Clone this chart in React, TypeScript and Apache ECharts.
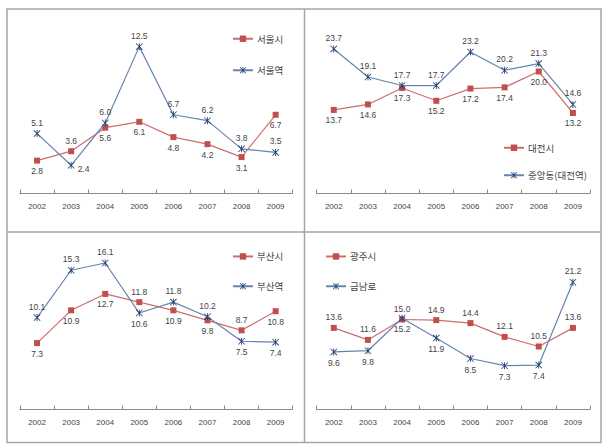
import React, { useEffect, useRef } from "react";
import * as echarts from "echarts";

const years = ["2002", "2003", "2004", "2005", "2006", "2007", "2008", "2009"];

const seoulCity = [2.8, 3.6, 5.6, 6.1, 4.8, 4.2, 3.1, 6.7];
const seoulStation = [5.1, 2.4, 6.0, 12.5, 6.7, 6.2, 3.8, 3.5];
const daejeonCity = [13.7, 14.6, 17.3, 15.2, 17.2, 17.4, 20.0, 13.2];
const jungangdong = [23.7, 19.1, 17.7, 17.7, 23.2, 20.2, 21.3, 14.6];
const busanCity = [7.3, 10.9, 12.7, 11.8, 10.9, 9.8, 8.7, 10.8];
const busanStation = [10.1, 15.3, 16.1, 10.6, 11.8, 10.2, 7.5, 7.4];
const gwangjuCity = [13.6, 11.6, 15.0, 14.9, 14.4, 12.1, 10.5, 13.6];
const geumnamro = [9.6, 9.8, 15.2, 11.9, 8.5, 7.3, 7.4, 21.2];

const names = ["서울시", "서울역", "대전시", "중앙동(대전역)", "부산시", "부산역", "광주시", "금남로"];

// label placement per point
const T = "top", B = "bottom", R = "right";
const seoulCityPos = [B, T, B, B, B, B, B, B];
const seoulStationPos = [T, R, T, T, T, T, T, T];
const daejeonCityPos = [B, B, B, B, B, B, B, B];
const jungangdongPos = [T, T, T, T, T, T, T, T];
const busanCityPos = [B, B, B, T, B, B, T, B];
const busanStationPos = [T, T, T, B, T, T, B, B];
const gwangjuCityPos = [T, T, T, T, T, T, T, T];
const geumnamroPos = [B, B, B, B, B, B, B, T];

const RED_LINE = "#cc6e70";
const RED_MARK = "#c0504d";
const BLUE_LINE = "#6585ad";
const BLUE_MARK = "#1f3d70";
const STAR =
  "path://M4.4,0H5.6V10H4.4Z M0,0.8L0.8,0L10,9.2L9.2,10Z M9.2,0L10,0.8L0.8,10L0,9.2Z";

const NUM_FONT = "Liberation Sans, Arial, sans-serif";
const KR_FONT = "Noto Sans CJK KR, sans-serif";

function makeSeries(name: string, values: number[], pos: string[], idx: number, red: boolean) {
  return {
    name,
    type: "line",
    xAxisIndex: idx,
    yAxisIndex: idx,
    symbol: red ? "rect" : STAR,
    symbolSize: red ? 6 : 7,
    lineStyle: { color: red ? RED_LINE : BLUE_LINE, width: 1.2 },
    itemStyle: { color: red ? RED_MARK : BLUE_MARK },
    emphasis: { disabled: true },
    data: values.map((v, i) => ({
      value: v,
      label: {
        position: pos[i],
        offset: pos[i] === R ? [0, 4] : [0, 0],
      },
    })),
    label: {
      show: true,
      distance: 3,
      fontSize: 8.5,
      fontFamily: NUM_FONT,
      color: "#444444",
      formatter: (p: any) => Number(p.value).toFixed(1),
    },
    z: red ? 2 : 3,
  };
}

const grids = [
  { left: 20, top: 29, width: 272.7, height: 164.5, max: 14 },
  { left: 316.7, top: 41, width: 273.3, height: 152.5, max: 25 },
  { left: 20, top: 245.7, width: 272.7, height: 163.8, max: 18 },
  { left: 316.7, top: 259.5, width: 273.3, height: 150, max: 25 },
];

const legends = [
  { left: 232, top: 34, gap: 22, data: [names[0], names[1]] },
  { left: 503, top: 143, gap: 18, data: [names[2], names[3]] },
  { left: 232, top: 251.7, gap: 20.3, data: [names[4], names[5]] },
  { left: 325, top: 251.7, gap: 20.3, data: [names[6], names[7]] },
];

export default function App() {
  const ref = useRef<HTMLDivElement>(null);
  useEffect(() => {
    if (!ref.current) return;
    const chart = echarts.init(ref.current, undefined, { renderer: "svg" });
    const borderStyle = { stroke: "#a6a6a6", lineWidth: 1.5, fill: "none" };
    chart.setOption({
      animation: false,
      backgroundColor: "#ffffff",
      grid: grids.map((g) => ({ left: g.left, top: g.top, width: g.width, height: g.height })),
      xAxis: grids.map((g, i) => ({
        type: "category",
        gridIndex: i,
        data: years,
        boundaryGap: true,
        axisLine: { show: true, lineStyle: { color: "#8c8c8c", width: 1 } },
        axisTick: { show: true, inside: true, length: 4, lineStyle: { color: "#8c8c8c" } },
        axisLabel: { fontSize: 8, fontFamily: NUM_FONT, color: "#444444", margin: 9 },
        splitLine: { show: false },
      })),
      yAxis: grids.map((g, i) => ({
        type: "value",
        gridIndex: i,
        min: 0,
        max: g.max,
        show: false,
        splitLine: { show: false },
      })),
      legend: legends.map((l) => ({
        orient: "vertical",
        left: l.left,
        top: l.top,
        itemWidth: 20,
        itemHeight: 8,
        itemGap: l.gap,
        padding: 0,
        data: l.data,
        selectedMode: false,
        textStyle: { fontSize: 9.5, fontFamily: KR_FONT, color: "#444444", padding: [0, 0, 0, -1] },
      })),
      graphic: [
        { type: "rect", shape: { x: 7, y: 9, width: 594, height: 433.5 }, style: borderStyle, z: -1 },
        { type: "line", shape: { x1: 304.5, y1: 9, x2: 304.5, y2: 442.5 }, style: borderStyle, z: -1 },
        { type: "line", shape: { x1: 7, y1: 232, x2: 601, y2: 232 }, style: borderStyle, z: -1 },
      ],
      series: [
        makeSeries(names[0], seoulCity, seoulCityPos, 0, true),
        makeSeries(names[1], seoulStation, seoulStationPos, 0, false),
        makeSeries(names[2], daejeonCity, daejeonCityPos, 1, true),
        makeSeries(names[3], jungangdong, jungangdongPos, 1, false),
        makeSeries(names[4], busanCity, busanCityPos, 2, true),
        makeSeries(names[5], busanStation, busanStationPos, 2, false),
        makeSeries(names[6], gwangjuCity, gwangjuCityPos, 3, true),
        makeSeries(names[7], geumnamro, geumnamroPos, 3, false),
      ],
    });
    return () => chart.dispose();
  }, []);
  return (
    <div
      ref={ref}
      style={{ position: "absolute", left: 0, top: 0, width: 610, height: 448 }}
    />
  );
}
